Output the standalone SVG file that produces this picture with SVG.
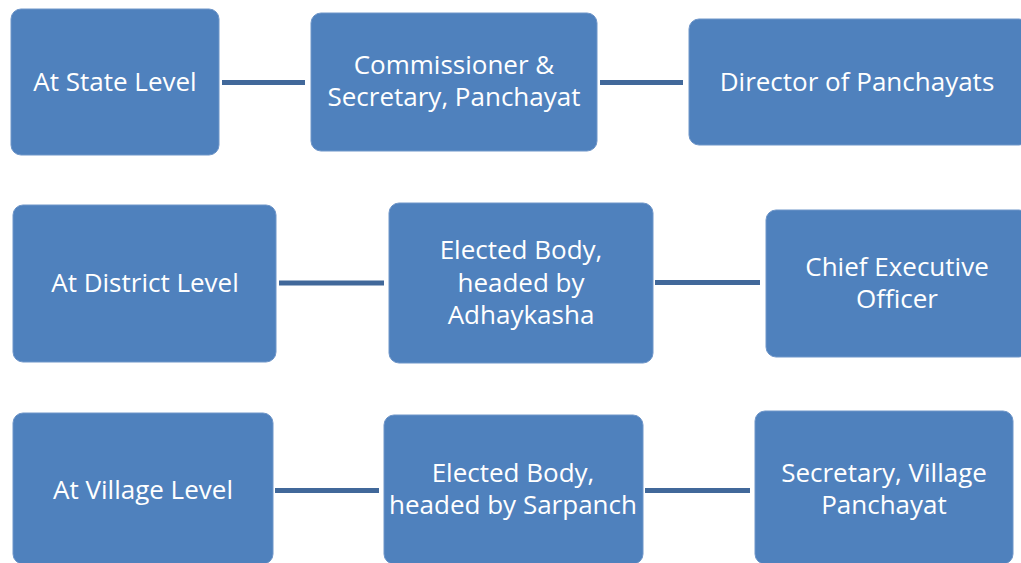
<svg xmlns="http://www.w3.org/2000/svg" width="1021" height="563" viewBox="0 0 1021 563">
  <style>
    .box { fill: #4F81BD; stroke: #6F96C9; stroke-width: 1; }
    .lbl { fill: #FFFFFF; font-family: "Open Sans", "Liberation Sans", sans-serif; font-size: 26px; text-anchor: middle; }
    .conn { stroke: #41689A; stroke-width: 5; fill: none; }
  </style>
  <rect width="1021" height="563" fill="#FFFFFF"/>
  <g id="connectors">
    <line class="conn" x1="222" y1="82.5" x2="305" y2="82.5"/>
    <line class="conn" x1="600" y1="82.5" x2="683" y2="82.5"/>
    <line class="conn" x1="279" y1="283" x2="384" y2="283"/>
    <line class="conn" x1="655" y1="282.5" x2="760" y2="282.5"/>
    <line class="conn" x1="275" y1="490.5" x2="379" y2="490.5"/>
    <line class="conn" x1="645" y1="490.5" x2="750" y2="490.5"/>
  </g>
  <g id="state-level">
    <rect class="box" x="11" y="9" width="208" height="146" rx="10"/>
    <text class="lbl" x="115" y="91">At State Level</text>
  </g>
  <g id="commissioner">
    <rect class="box" x="311" y="13" width="286" height="138" rx="10"/>
    <text class="lbl" x="454" y="74">Commissioner &amp;</text>
    <text class="lbl" x="454" y="106">Secretary, Panchayat</text>
  </g>
  <g id="director">
    <rect class="box" x="689" y="19" width="340" height="126" rx="10"/>
    <text class="lbl" x="857" y="91">Director of Panchayats</text>
  </g>
  <g id="district-level">
    <rect class="box" x="13" y="205" width="263" height="157" rx="10"/>
    <text class="lbl" x="145" y="292">At District Level</text>
  </g>
  <g id="elected-district">
    <rect class="box" x="389" y="203" width="264" height="160" rx="10"/>
    <text class="lbl" x="521" y="259">Elected Body,</text>
    <text class="lbl" x="521" y="291.5">headed by</text>
    <text class="lbl" x="521" y="324">Adhaykasha</text>
  </g>
  <g id="ceo">
    <rect class="box" x="766" y="210" width="263" height="147" rx="10"/>
    <text class="lbl" x="897" y="276">Chief Executive</text>
    <text class="lbl" x="897" y="308">Officer</text>
  </g>
  <g id="village-level">
    <rect class="box" x="13" y="413" width="260" height="151" rx="10"/>
    <text class="lbl" x="143" y="499">At Village Level</text>
  </g>
  <g id="elected-village">
    <rect class="box" x="384" y="415" width="259" height="149" rx="10"/>
    <text class="lbl" x="513" y="482">Elected Body,</text>
    <text class="lbl" x="513" y="514">headed by Sarpanch</text>
  </g>
  <g id="secretary-village">
    <rect class="box" x="755" y="411" width="258" height="153" rx="10"/>
    <text class="lbl" x="884" y="482">Secretary, Village</text>
    <text class="lbl" x="884" y="514">Panchayat</text>
  </g>
</svg>
